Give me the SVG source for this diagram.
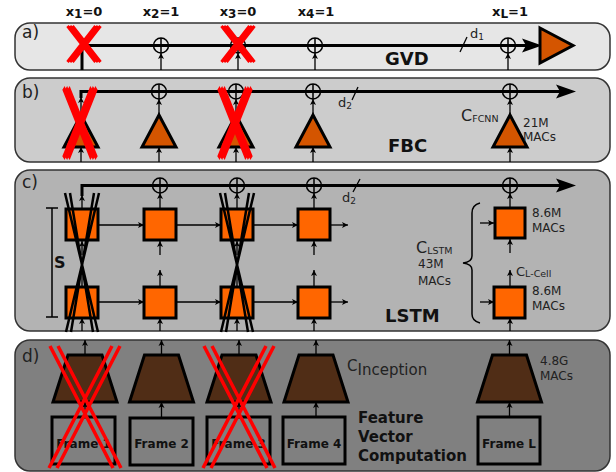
<svg xmlns="http://www.w3.org/2000/svg" width="616" height="472" viewBox="0 0 616 472">
<defs>
<marker id="ah" viewBox="0 0 10 10" refX="10" refY="5" markerWidth="6" markerHeight="7" orient="auto" markerUnits="userSpaceOnUse"><path d="M0,0 L10,5 L0,10 L2.5,5 z" fill="#000"/></marker>
<g id="oplus"><circle r="7.5" fill="none" stroke="#000" stroke-width="1.5"/><path d="M-7.5,0 H7.5 M0,-7.5 V7.5" stroke="#000" stroke-width="1.5"/></g>
<g id="redx">
<path d="M-14,-18 L14,18 M-11.5,-18 L16.5,18 M-16.5,-18 L11.5,18 M14,-18 L-14,18 M16.5,-18 L-11.5,18 M11.5,-18 L-16.5,18" stroke="#ff0000" stroke-width="3"/>
</g>
<g id="redxd">
<path d="M-35,-61 L28,61 M-27,-61 L36,61 M35,-61 L-28,61 M27,-61 L-36,61" stroke="#ff0000" stroke-width="3.5"/>
</g>
<g id="blackx">
<path d="M-17,-32 L16,107 M-12,-32 L11,107 M12,-32 L-11,107 M17,-32 L-16,107" stroke="#000" stroke-width="2.5"/>
</g>
</defs>
<style>
.panel{stroke:#333;stroke-width:1.5}
.lbl{font-family:"DejaVu Sans",sans-serif;font-size:17px;fill:#222}
.bold{font-family:"DejaVu Sans",sans-serif;font-weight:bold;fill:#111}
.t{font-family:"DejaVu Sans",sans-serif;fill:#222}
.main{stroke:#000;stroke-width:3;fill:none}
.arr{stroke:#000;stroke-width:1.3;fill:none;marker-end:url(#ah)}
.tri{fill:#d45500;stroke:#000;stroke-width:3}
.box{fill:#ff6600;stroke:#000;stroke-width:3}
.trap{fill:#502d16;stroke:#000;stroke-width:3}
.frame{fill:none;stroke:#000;stroke-width:3}
.thin{stroke:#000;stroke-width:1.5;fill:none}
</style>

<!-- top labels -->
<g id="xlabels" class="bold" font-size="13" text-anchor="middle">
<text x="84" y="16">x<tspan font-size="12" dy="2">1</tspan><tspan dy="-2">=0</tspan></text>
<text x="161" y="16">x<tspan font-size="12" dy="2">2</tspan><tspan dy="-2">=1</tspan></text>
<text x="238" y="16">x<tspan font-size="12" dy="2">3</tspan><tspan dy="-2">=0</tspan></text>
<text x="316" y="16">x<tspan font-size="12" dy="2">4</tspan><tspan dy="-2">=1</tspan></text>
<text x="510" y="16">x<tspan font-size="12" dy="2">L</tspan><tspan dy="-2">=1</tspan></text>
</g>

<!-- panels -->
<g id="panel-a"><rect class="panel" x="15" y="23" width="595" height="47" rx="15" fill="#e6e6e6"/><text class="lbl" x="22" y="38">a)</text></g>
<g id="panel-b"><rect class="panel" x="15" y="78" width="595" height="84" rx="15" fill="#cccccc"/><text class="lbl" x="22" y="98">b)</text></g>
<g id="panel-c"><rect class="panel" x="15" y="170" width="595" height="161" rx="15" fill="#b3b3b3"/><text class="lbl" x="22" y="188">c)</text></g>
<g id="panel-d"><rect class="panel" x="15" y="340" width="595" height="131" rx="15" fill="#808080"/><text class="lbl" x="22" y="362">d)</text></g>

<!-- connectors -->
<g id="connectors">
<!-- a -->
<path class="main" d="M82,70 V45.5 H526"/>
<polygon points="522,38.5 542,45.5 522,52.5 526,45.5" fill="#000"/>
<line class="arr" x1="161" y1="70" x2="161" y2="53"/>
<line class="arr" x1="238" y1="70" x2="238" y2="53"/>
<line class="arr" x1="315" y1="70" x2="315" y2="53"/>
<line class="arr" x1="508" y1="70" x2="508" y2="53"/>
<line x1="460" y1="52" x2="467" y2="37" stroke="#000" stroke-width="1.3"/>
<!-- b -->
<path class="main" d="M81,98 V91.5 H560"/>
<polygon points="556,84.5 576,91.5 556,98.5 560,91.5" fill="#000"/>
<line class="arr" x1="81" y1="115" x2="81" y2="97"/>
<line class="arr" x1="159" y1="115" x2="159" y2="99"/>
<line class="arr" x1="236" y1="115" x2="236" y2="99"/>
<line class="arr" x1="313" y1="115" x2="313" y2="99"/>
<line class="arr" x1="510" y1="115" x2="510" y2="99"/>
<line class="arr" x1="81" y1="162" x2="81" y2="147"/>
<line class="arr" x1="159" y1="162" x2="159" y2="147"/>
<line class="arr" x1="236" y1="162" x2="236" y2="147"/>
<line class="arr" x1="313" y1="162" x2="313" y2="147"/>
<line class="arr" x1="510" y1="162" x2="510" y2="147"/>
<line x1="352" y1="100" x2="358" y2="87" stroke="#000" stroke-width="1.3"/>
<!-- c -->
<path class="main" d="M82,196 V185.5 H560"/>
<polygon points="556,178.5 576,185.5 556,192.5 560,185.5" fill="#000"/>
<line class="arr" x1="82" y1="209" x2="82" y2="195"/>
<line class="arr" x1="160" y1="209" x2="160" y2="193"/>
<line class="arr" x1="237" y1="209" x2="237" y2="193"/>
<line class="arr" x1="314" y1="209" x2="314" y2="193"/>
<line class="arr" x1="510" y1="208" x2="510" y2="193"/>
<line class="arr" x1="82" y1="255" x2="82" y2="241"/>
<line class="arr" x1="160" y1="255" x2="160" y2="241"/>
<line class="arr" x1="237" y1="255" x2="237" y2="241"/>
<line class="arr" x1="314" y1="255" x2="314" y2="241"/>
<line class="arr" x1="510" y1="253" x2="510" y2="239"/>
<line class="arr" x1="82" y1="287" x2="82" y2="270"/>
<line class="arr" x1="160" y1="287" x2="160" y2="270"/>
<line class="arr" x1="237" y1="287" x2="237" y2="270"/>
<line class="arr" x1="314" y1="287" x2="314" y2="270"/>
<line class="arr" x1="510" y1="287" x2="510" y2="270"/>
<line class="arr" x1="82" y1="331" x2="82" y2="318"/>
<line class="arr" x1="160" y1="331" x2="160" y2="318"/>
<line class="arr" x1="237" y1="331" x2="237" y2="318"/>
<line class="arr" x1="314" y1="331" x2="314" y2="318"/>
<line class="arr" x1="510" y1="331" x2="510" y2="318"/>
<line class="arr" x1="99" y1="225" x2="144" y2="225"/>
<line class="arr" x1="176" y1="225" x2="221" y2="225"/>
<line class="arr" x1="253" y1="225" x2="298" y2="225"/>
<line class="arr" x1="331" y1="225" x2="348" y2="225"/>
<line class="arr" x1="480" y1="223" x2="494" y2="223"/>
<line class="arr" x1="99" y1="302" x2="144" y2="302"/>
<line class="arr" x1="176" y1="302" x2="221" y2="302"/>
<line class="arr" x1="253" y1="302" x2="298" y2="302"/>
<line class="arr" x1="331" y1="302" x2="348" y2="302"/>
<line class="arr" x1="480" y1="302" x2="494" y2="302"/>
<line x1="353" y1="192" x2="360" y2="179" stroke="#000" stroke-width="1.3"/>
<!-- d -->
<line class="arr" x1="85" y1="355" x2="85" y2="340"/>
<line class="arr" x1="161.5" y1="355" x2="161.5" y2="340"/>
<line class="arr" x1="239" y1="355" x2="239" y2="340"/>
<line class="arr" x1="316" y1="355" x2="316" y2="340"/>
<line class="arr" x1="509.5" y1="355" x2="509.5" y2="340"/>
<line class="arr" x1="85" y1="417" x2="85" y2="402"/>
<line class="arr" x1="161.5" y1="417" x2="161.5" y2="402"/>
<line class="arr" x1="239" y1="417" x2="239" y2="402"/>
<line class="arr" x1="316" y1="417" x2="316" y2="402"/>
<line class="arr" x1="509.5" y1="417" x2="509.5" y2="402"/>
</g>

<!-- panel a nodes -->
<g id="a-sum2"><use href="#oplus" x="161" y="45.5"/></g>
<g id="a-sum3"><use href="#oplus" x="238" y="45.5"/></g>
<g id="a-sum4"><use href="#oplus" x="315" y="45.5"/></g>
<g id="a-sumL"><use href="#oplus" x="508" y="45.5"/></g>
<g id="a-out"><polygon class="tri" points="540,28 573,45.5 540,63"/></g>
<g id="a-text"><text class="t" x="470" y="38" font-size="13">d<tspan font-size="9" dy="2">1</tspan></text><text class="bold" x="385" y="65" font-size="18">GVD</text></g>
<g id="a-x1"><use href="#redx" x="84" y="44"/></g>
<g id="a-x3"><use href="#redx" x="238" y="44"/></g>

<!-- panel b nodes -->
<g id="b-sum2"><use href="#oplus" x="159" y="91.5"/></g>
<g id="b-sum3"><use href="#oplus" x="236" y="91.5"/></g>
<g id="b-sum4"><use href="#oplus" x="313" y="91.5"/></g>
<g id="b-sumL"><use href="#oplus" x="510" y="91.5"/></g>
<g id="b-fc1"><polygon class="tri" points="81,115 98,147 64,147"/></g>
<g id="b-fc2"><polygon class="tri" points="159,115 176,147 142,147"/></g>
<g id="b-fc3"><polygon class="tri" points="236,115 253,147 219,147"/></g>
<g id="b-fc4"><polygon class="tri" points="313,115 330,147 296,147"/></g>
<g id="b-fcL"><polygon class="tri" points="510,115 527,147 493,147"/></g>
<g id="b-text">
<text class="t" x="338" y="107" font-size="13">d<tspan font-size="9" dy="2">2</tspan></text>
<text class="t" x="461" y="121" font-size="16">C<tspan font-size="9.5" dy="1">FCNN</tspan></text>
<text class="t" x="523" y="127" font-size="12">21M</text>
<text class="t" x="523" y="141" font-size="12">MACs</text>
<text class="bold" x="388" y="152" font-size="18">FBC</text>
</g>
<g id="b-x1"><use href="#redx" x="80" y="123" transform="translate(80,123) scale(1,1.95) translate(-80,-123)"/></g>
<g id="b-x3"><use href="#redx" x="235" y="123" transform="translate(235,123) scale(1,1.95) translate(-235,-123)"/></g>

<!-- panel c nodes -->
<g id="c-sum2"><use href="#oplus" x="160" y="185.5"/></g>
<g id="c-sum3"><use href="#oplus" x="237" y="185.5"/></g>
<g id="c-sum4"><use href="#oplus" x="314" y="185.5"/></g>
<g id="c-sumL"><use href="#oplus" x="510" y="185.5"/></g>
<g id="c-cell1"><rect class="box" x="66" y="209" width="32" height="31"/><rect class="box" x="66" y="287" width="32" height="31"/></g>
<g id="c-cell2"><rect class="box" x="144" y="209" width="32" height="31"/><rect class="box" x="144" y="287" width="32" height="31"/></g>
<g id="c-cell3"><rect class="box" x="221" y="209" width="32" height="31"/><rect class="box" x="221" y="287" width="32" height="31"/></g>
<g id="c-cell4"><rect class="box" x="298" y="209" width="32" height="31"/><rect class="box" x="298" y="287" width="32" height="31"/></g>
<g id="c-cellL"><rect class="box" x="495" y="208" width="30" height="30"/><rect class="box" x="494" y="287" width="31" height="31"/></g>
<g id="c-x1"><use href="#blackx" x="82" y="225"/></g>
<g id="c-x3"><use href="#blackx" x="237" y="225"/></g>
<g id="c-s"><path class="thin" d="M52,208 V317 M46,208 H58 M46,317 H58"/><text class="bold" x="54" y="268" font-size="16">S</text></g>
<g id="c-brace"><path class="thin" d="M480,203 Q472,205 472,213 V256 Q472,262 463,263 Q472,264 472,270 V314 Q472,321 480,323"/></g>
<g id="c-text">
<text class="t" x="342" y="202" font-size="13">d<tspan font-size="9" dy="2">2</tspan></text>
<text class="t" x="416" y="253" font-size="16">C<tspan font-size="9.5" dy="1">LSTM</tspan></text>
<text class="t" x="418" y="268" font-size="12">43M</text>
<text class="t" x="418" y="285" font-size="12">MACs</text>
<text class="t" x="532" y="217" font-size="12">8.6M</text>
<text class="t" x="532" y="232" font-size="12">MACs</text>
<text class="t" x="516" y="276" font-size="13">C<tspan font-size="9.5" dy="1">L-Cell</tspan></text>
<text class="t" x="532" y="295" font-size="12">8.6M</text>
<text class="t" x="532" y="310" font-size="12">MACs</text>
<text class="bold" x="385" y="322" font-size="18">LSTM</text>
</g>

<!-- panel d nodes -->
<g id="d-inc1"><polygon class="trap" points="68,355 102,355 117,402 53,402"/></g>
<g id="d-inc2"><polygon class="trap" points="144.5,355 178.5,355 193.5,402 129.5,402"/></g>
<g id="d-inc3"><polygon class="trap" points="222,355 256,355 271,402 207,402"/></g>
<g id="d-inc4"><polygon class="trap" points="299,355 333,355 348,402 284,402"/></g>
<g id="d-incL"><polygon class="trap" points="492.5,355 526.5,355 541.5,402 477.5,402"/></g>
<g id="d-frame1"><rect class="frame" x="52" y="417" width="63" height="47"/><text class="bold" x="83.5" y="448" font-size="12" text-anchor="middle">Frame 1</text></g>
<g id="d-frame2"><rect class="frame" x="130" y="418" width="63" height="47"/><text class="bold" x="161.5" y="448" font-size="12" text-anchor="middle">Frame 2</text></g>
<g id="d-frame3"><rect class="frame" x="207" y="417" width="63" height="47"/><text class="bold" x="238.5" y="448" font-size="12" text-anchor="middle">Frame 3</text></g>
<g id="d-frame4"><rect class="frame" x="283" y="417" width="62" height="47"/><text class="bold" x="314" y="448" font-size="12" text-anchor="middle">Frame 4</text></g>
<g id="d-frameL"><rect class="frame" x="478" y="417" width="62" height="47"/><text class="bold" x="509" y="448" font-size="12" text-anchor="middle">Frame L</text></g>
<g id="d-text">
<text class="t" x="347" y="371" font-size="15" fill="#262626">C<tspan dy="4">Inception</tspan></text>
<text class="t" x="540" y="365" font-size="12">4.8G</text>
<text class="t" x="540" y="380" font-size="12">MACs</text>
<text class="bold" x="358" y="423" font-size="15">Feature</text>
<text class="bold" x="358" y="442" font-size="15">Vector</text>
<text class="bold" x="358" y="461" font-size="15">Computation</text>
</g>
<g id="d-x1"><use href="#redxd" x="85" y="407"/></g>
<g id="d-x3"><use href="#redxd" x="239" y="407"/></g>
</svg>
